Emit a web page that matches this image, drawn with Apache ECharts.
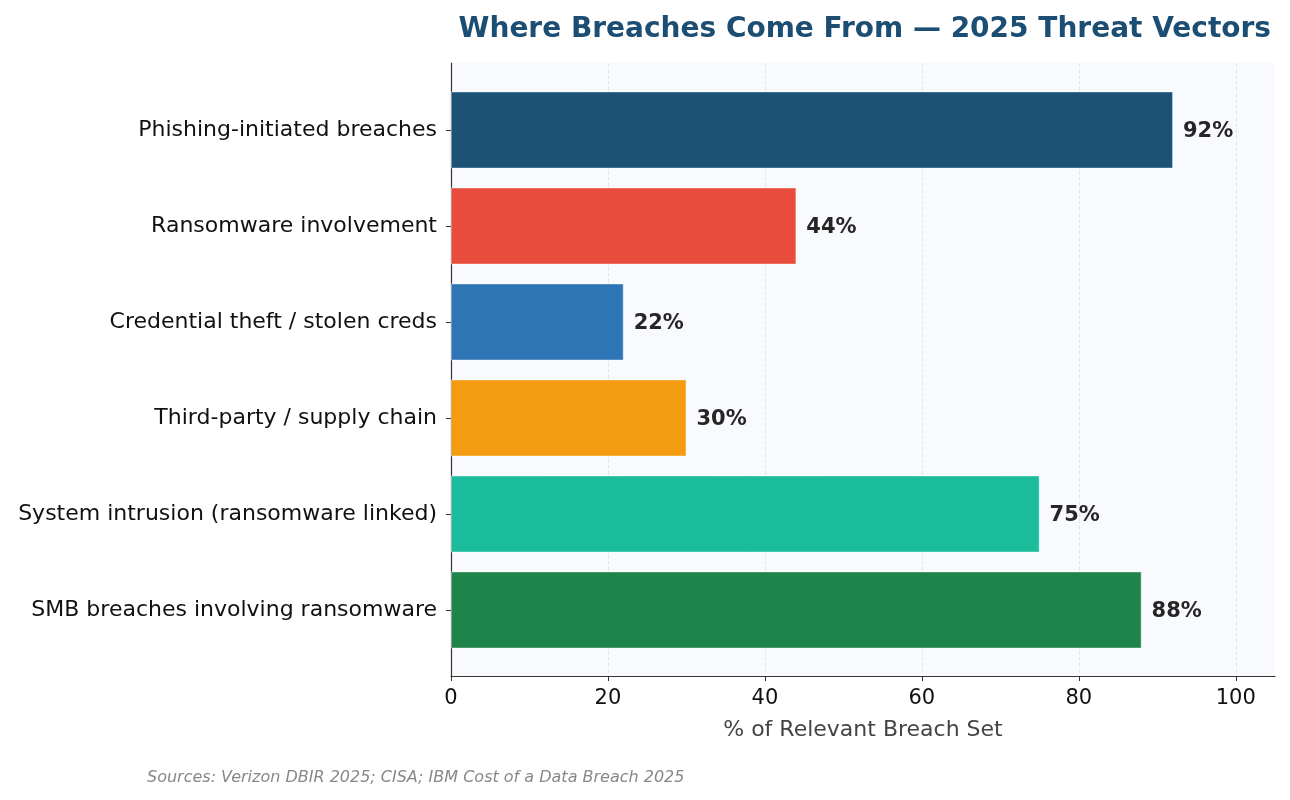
<!DOCTYPE html>
<html>
<head>
<meta charset="utf-8">
<script src="https://cdn.jsdelivr.net/npm/echarts@6/dist/echarts.min.js"></script>
<style>
  html, body { margin: 0; padding: 0; background: #fff; }
  #chart { width: 1290px; height: 800px; }
</style>
</head>
<body>
<div id="chart"></div>
<script>
const categories = [
  'Phishing-initiated breaches',
  'Ransomware involvement',
  'Credential theft / stolen creds',
  'Third-party / supply chain',
  'System intrusion (ransomware linked)',
  'SMB breaches involving ransomware'
];
const values = [92, 44, 22, 30, 75, 88];
const barColors = ['#1b5276', '#e74c3c', '#2e75b6', '#f39c12', '#1abc9c', '#1e8449'];
const xTicks = [0, 20, 40, 60, 80, 100];

const font = 'DejaVu Sans';
const chart = echarts.init(document.getElementById('chart'));

const option = {
  animation: false,
  title: {
    text: 'Where Breaches Come From — 2025 Threat Vectors',
    right: 14,
    top: 11,
    textStyle: { fontFamily: font, fontSize: 28, fontWeight: 'bold', color: '#1c4e73' }
  },
  graphic: [{
    type: 'text',
    left: 147,
    top: 770,
    style: {
      text: 'Sources: Verizon DBIR 2025; CISA; IBM Cost of a Data Breach 2025',
      font: 'italic 16px "DejaVu Sans"',
      fill: '#888'
    }
  }],
  grid: [
    // frame: background, spines, x axis
    { left: 451, right: 15, top: 63, bottom: 124, show: true, backgroundColor: '#f9fafd', borderWidth: 0 },
    // inner band area where the bars sit (matplotlib-style margins)
    { left: 451, right: 15, top: 82, bottom: 142 }
  ],
  xAxis: [{
    type: 'value',
    gridIndex: 0,
    min: 0,
    max: 105,
    interval: 20,
    name: '% of Relevant Breach Set',
    nameLocation: 'middle',
    nameGap: 43,
    nameTextStyle: { fontFamily: font, fontSize: 22, color: '#444' },
    axisLine: { show: true, lineStyle: { color: '#333', width: 1.2 } },
    axisTick: { show: true, length: 5, customValues: xTicks, lineStyle: { color: '#333' } },
    axisLabel: {
      customValues: xTicks,
      fontFamily: font, fontSize: 21, color: '#111', margin: 12
    },
    splitLine: { show: true, lineStyle: { color: '#e3e5ea', type: 'dashed', width: 1 } }
  }, {
    type: 'value',
    gridIndex: 1,
    min: 0,
    max: 105,
    show: false
  }],
  yAxis: [{
    type: 'value',
    gridIndex: 0,
    axisLine: { show: true, lineStyle: { color: '#333', width: 1.2 } },
    axisTick: { show: false },
    axisLabel: { show: false },
    splitLine: { show: false }
  }, {
    type: 'category',
    gridIndex: 1,
    inverse: true,
    data: categories,
    axisLine: { show: false },
    axisTick: { show: true, alignWithLabel: true, length: 5, lineStyle: { color: '#333' } },
    axisLabel: { fontFamily: font, fontSize: 22, color: '#111', margin: 14 },
    splitLine: { show: false }
  }],
  series: [{
    type: 'bar',
    xAxisIndex: 1,
    yAxisIndex: 1,
    barWidth: 77,
    data: values.map((v, i) => ({
      value: v,
      itemStyle: { color: barColors[i], borderColor: 'rgba(255,255,255,0.6)', borderWidth: 0.8 }
    })),
    label: {
      show: true,
      position: 'right',
      distance: 10,
      offset: [0, 2],
      formatter: '{c}%',
      fontFamily: font, fontSize: 21, fontWeight: 'bold', color: '#262626'
    }
  }]
};

chart.setOption(option);
window.addEventListener('resize', () => chart.resize());
</script>
</body>
</html>
